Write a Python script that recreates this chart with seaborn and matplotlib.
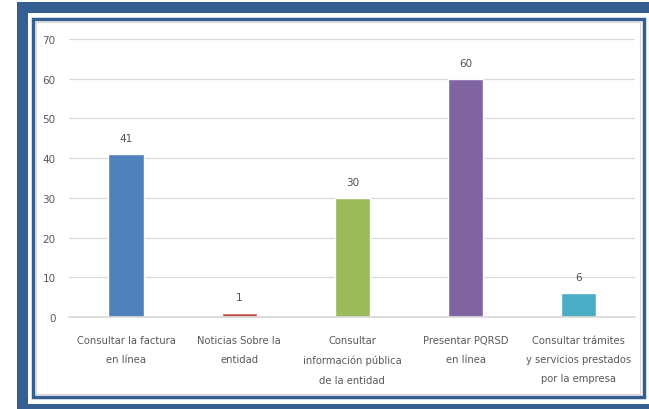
import matplotlib
matplotlib.use("Agg")
import matplotlib.pyplot as plt
import matplotlib.patches as mpatches
import pandas as pd
import seaborn as sns

# datos
categorias = [
    "Consultar la factura\nen línea",
    "Noticias Sobre la\nentidad",
    "Consultar\ninformación pública\nde la entidad",
    "Presentar PQRSD\nen línea",
    "Consultar trámites\ny servicios prestados\npor la empresa",
]
valores = [41, 1, 30, 60, 6]
colores = ["#4F81BD", "#C0504D", "#9BBB59", "#8064A2", "#4BACC6"]
y_ticks = [0, 10, 20, 30, 40, 50, 60, 70]

df = pd.DataFrame({"Categoria": categorias, "Valor": valores})

sns.set_theme(style="white")
plt.rcParams["font.family"] = ["Liberation Sans Narrow", "DejaVu Sans"]

W, H = 649, 410
fig = plt.figure(figsize=(W / 100, H / 100), dpi=100)
fig.patch.set_facecolor("white")


def rect_px(x0, y0, x1, y1, **kw):
    # rectangulo en pixeles con origen arriba a la izquierda
    fig.patches.append(mpatches.Rectangle(
        (x0 / W, 1 - y1 / H), (x1 - x0) / W, (y1 - y0) / H,
        transform=fig.transFigure, figure=fig, **kw))


azul = "#355E91"
# marco exterior grueso
rect_px(17, 3, 660, 14, facecolor=azul, edgecolor="none")
rect_px(17, 3, 28, 410, facecolor=azul, edgecolor="none")
rect_px(17, 405, 660, 415, facecolor=azul, edgecolor="none")
# marco interior delgado
rect_px(32.5, 19.5, 643.5, 398, facecolor="none", edgecolor=azul, linewidth=2.5)
rect_px(36, 23, 640, 395, facecolor="none", edgecolor="#d9d9d9", linewidth=0.8)

ax = fig.add_axes([69.4 / W, 1 - 318 / H, (635.4 - 69.4) / W, (318 - 40) / H])
ax.set_facecolor("none")

sns.barplot(data=df, x="Categoria", y="Valor", hue="Categoria",
            palette=colores, width=0.31, legend=False, ax=ax, saturation=1)

for cont in ax.containers:
    ax.bar_label(cont, padding=8, fontsize=7.5, color="#505050")

ax.set_ylim(0, 70)
ax.set_yticks(y_ticks)
ax.set_xlim(-0.5, 4.5)
ax.grid(axis="y", color="#d9d9d9", linewidth=0.9)
ax.set_axisbelow(True)
for s in ["top", "right", "left"]:
    ax.spines[s].set_visible(False)
ax.spines["bottom"].set_color("#d9d9d9")
ax.set_xlabel("")
ax.set_ylabel("")
ax.tick_params(axis="y", length=0, pad=10, labelsize=7.5, labelcolor="#595959")
ax.tick_params(axis="x", length=0, pad=13, labelsize=7.2, labelcolor="#595959")
for t in ax.get_xticklabels():
    t.set_linespacing(2.15)
    t.set_verticalalignment("top")

fig.savefig("out.png", dpi=100)
